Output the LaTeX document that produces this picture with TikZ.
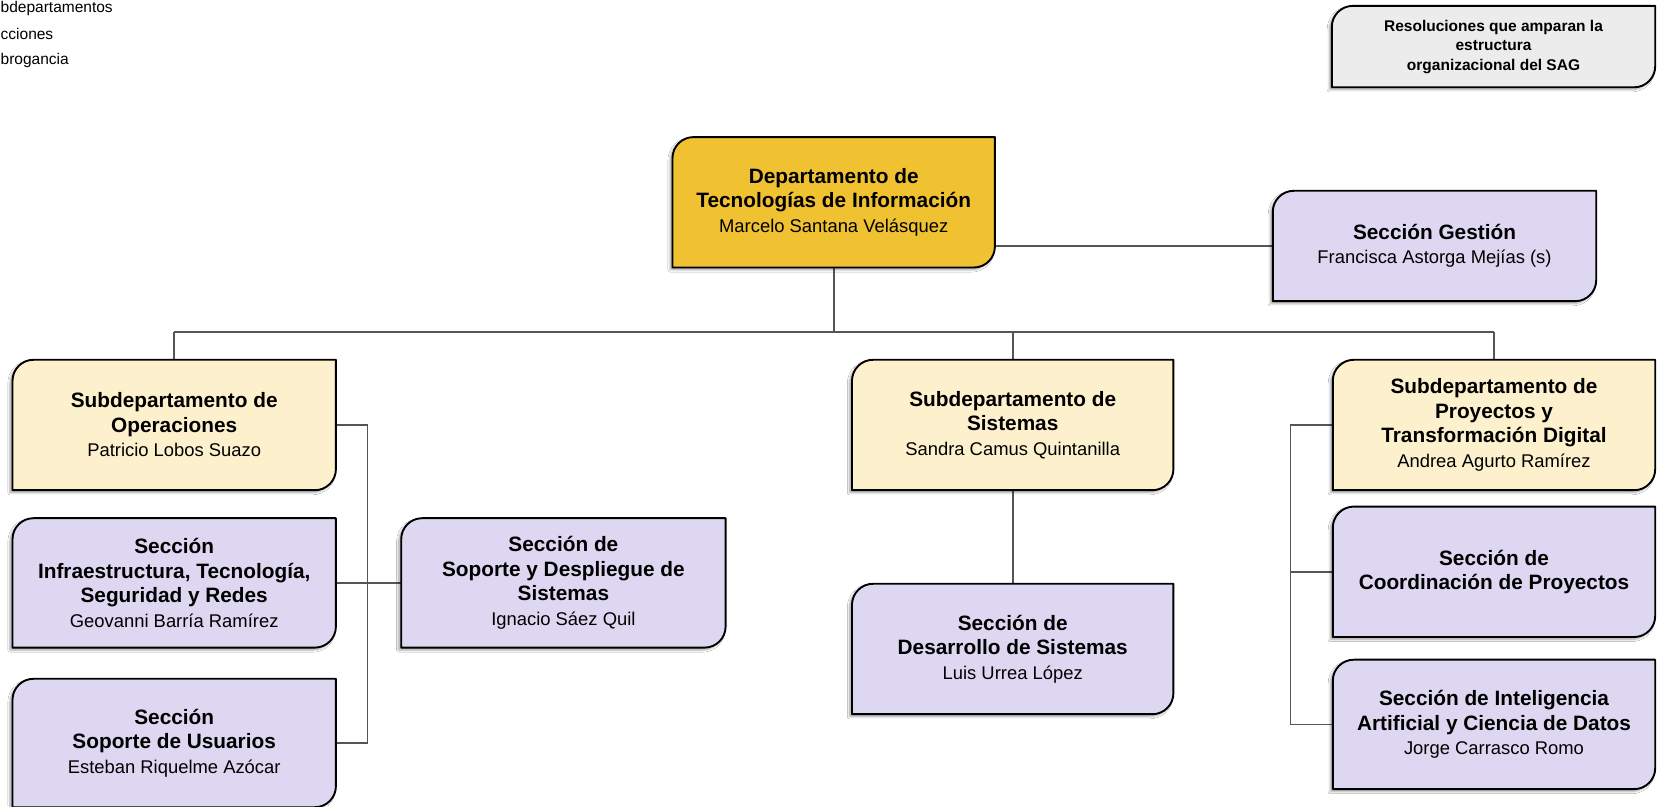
\documentclass[tikz,border=0pt]{standalone}
\usepackage{fontspec}
\setmainfont{Liberation Sans}
\usetikzlibrary{shadows.blur}
\pgfdeclarelayer{bg}
\pgfsetlayers{bg,main}
\definecolor{gold}{HTML}{F0C232}
\definecolor{lyellow}{HTML}{FDF0CD}
\definecolor{lav}{HTML}{DED7F1}
\definecolor{lgray}{HTML}{ECECEC}
\definecolor{connc}{HTML}{555555}
\newcommand{\orgname}[1]{{\fontsize{18.4}{24}\selectfont\mdseries #1}}
\newcommand{\orgshape}[2]{%
  \draw[boxline, fill=#2, blur shadow={shadow xshift=-2.5pt, shadow yshift=-2.5pt, shadow blur steps=6, shadow opacity=35}]
    (#1.south west) -- ([yshift=-21pt]#1.north west)
    arc[start angle=180, end angle=90, radius=21pt]
    -- (#1.north east) -- ([yshift=21pt]#1.south east)
    arc[start angle=0, end angle=-90, radius=21pt] -- cycle;}
\tikzset{
  orgbox/.style={draw=none, fill=none, inner sep=0pt, minimum width=323pt, minimum height=130pt,
    align=center, font=\fontsize{20.8}{24.5}\selectfont\bfseries},
  boxline/.style={draw=black, line width=1.9pt, line join=round},
  conn/.style={draw=connc, line width=1.6pt},
  legend/.style={inner sep=0pt, anchor=west, font=\fontsize{15.5}{18}\selectfont}
}
\begin{document}
\begin{tikzpicture}[x=1pt,y=1pt]
\useasboundingbox (0,0) rectangle (1657,806);
% legend (cut off at left edge)
\node[legend] (l1) at (0.5,797.5) {bdepartamentos};
\node[legend] (l2) at (0.5,772.5) {cciones};
\node[legend] (l3) at (0.5,745.5) {brogancia};
% boxes
\node[orgbox, minimum width=322pt] (main) at (833.7,603.7)
  {Departamento de\\Tecnologías de Información\\\orgname{Marcelo Santana Velásquez}};
\node[orgbox, minimum height=110pt] (gestion) at (1434.5,560)
  {Sección Gestión\\\orgname{Francisca Astorga Mejías (s)}};
\node[orgbox, minimum height=81pt, font=\fontsize{15.5}{19.5}\selectfont\bfseries] (res) at (1493.5,759.4)
  {Resoluciones que amparan la\\estructura\\organizacional del SAG};
\node[orgbox] (subop) at (174.2,381)
  {Subdepartamento de\\Operaciones\\\orgname{Patricio Lobos Suazo}};
\node[orgbox, minimum height=129pt] (infra) at (174.2,223.1)
  {Sección\\Infraestructura, Tecnología,\\Seguridad y Redes\\\orgname{Geovanni Barría Ramírez}};
\node[orgbox, minimum height=128pt] (usu) at (174.2,63)
  {Sección\\Soporte de Usuarios\\\orgname{Esteban Riquelme Azócar}};
\node[orgbox, minimum width=324pt, minimum height=129pt] (sop) at (563.4,223.1)
  {Sección de\\Soporte y Despliegue de\\Sistemas\\\orgname{Ignacio Sáez Quil}};
\node[orgbox, minimum width=321pt] (subsis) at (1012.7,381)
  {Subdepartamento de\\Sistemas\\\orgname{Sandra Camus Quintanilla}};
\node[orgbox, minimum width=321pt] (desa) at (1012.7,157)
  {Sección de\\Desarrollo de Sistemas\\\orgname{Luis Urrea López}};
\node[orgbox, minimum width=322pt] (subproy) at (1494,381)
  {Subdepartamento de\\Proyectos y\\Transformación Digital\\\orgname{Andrea Agurto Ramírez}};
\node[orgbox, minimum width=322pt] (coord) at (1494,234.2)
  {Sección de\\Coordinación de Proyectos};
\node[orgbox, minimum width=322pt, minimum height=129pt] (ia) at (1494,81.6)
  {Sección de Inteligencia\\Artificial y Ciencia de Datos\\\orgname{Jorge Carrasco Romo}};
\begin{pgfonlayer}{bg}
\fill[white] (0,0) rectangle (1657,806);
\coordinate (bus) at (0,474);
\coordinate (lc) at (367.5,0);
\coordinate (rc) at (1290.4,0);
\draw[conn] (main.south) -- (main.south |- bus);
\draw[conn] (subop.north |- bus) -- (subproy.north |- bus);
\draw[conn] (subop.north |- bus) -- (subop.north);
\draw[conn] (subsis.north |- bus) -- (subsis.north);
\draw[conn] (subproy.north |- bus) -- (subproy.north);
\draw[conn] (gestion.west) -- (gestion.west -| main.east);
\draw[conn] (subop.east) -- (subop.east -| lc) -- (usu.east -| lc) -- (usu.east);
\draw[conn] (infra.east) -- (sop.west);
\draw[conn] (subsis.south) -- (desa.north);
\draw[conn] (subproy.west) -- (subproy.west -| rc) -- (ia.west -| rc) -- (ia.west);
\draw[conn] (coord.west) -- (coord.west -| rc);
\foreach \n/\c in {main/gold, gestion/lav, res/lgray, subop/lyellow, infra/lav, usu/lav, sop/lav,
  subsis/lyellow, desa/lav, subproy/lyellow, coord/lav, ia/lav} {\orgshape{\n}{\c}}
\end{pgfonlayer}
\end{tikzpicture}
\end{document}
